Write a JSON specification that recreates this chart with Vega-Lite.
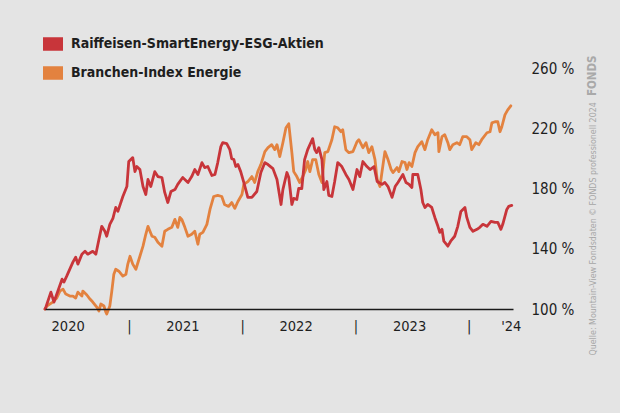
{
 "$schema": "https://vega.github.io/schema/vega-lite/v6.json",
 "width": 468,
 "height": 241,
 "autosize": {"type": "none"},
 "padding": {"left": 45, "top": 68, "right": 107, "bottom": 104},
 "background": "#e4e4e4",
 "config": {"view": {"stroke": null}, "font": "DejaVu Sans Condensed, Liberation Sans Narrow, Roboto, sans-serif"},
 "datasets": {
  "fonds": [
   {"date": "2020-04-05", "value": 100},
   {"date": "2020-04-08", "value": 101.3},
   {"date": "2020-04-24", "value": 111.2},
   {"date": "2020-05-04", "value": 104.6},
   {"date": "2020-05-30", "value": 119.8},
   {"date": "2020-06-05", "value": 117.9},
   {"date": "2020-06-14", "value": 121.8},
   {"date": "2020-07-04", "value": 131.1},
   {"date": "2020-07-13", "value": 134.4},
   {"date": "2020-07-20", "value": 129.8},
   {"date": "2020-08-02", "value": 136.4},
   {"date": "2020-08-12", "value": 138.3},
   {"date": "2020-08-21", "value": 136.4},
   {"date": "2020-09-06", "value": 138.3},
   {"date": "2020-09-16", "value": 136.4},
   {"date": "2020-09-26", "value": 146.3},
   {"date": "2020-10-05", "value": 154.9},
   {"date": "2020-10-15", "value": 151.6},
   {"date": "2020-10-21", "value": 148.3},
   {"date": "2020-10-31", "value": 156.2},
   {"date": "2020-11-10", "value": 160.2},
   {"date": "2020-11-19", "value": 167.4},
   {"date": "2020-11-26", "value": 164.8},
   {"date": "2020-12-12", "value": 174.7},
   {"date": "2020-12-25", "value": 181.3},
   {"date": "2020-12-31", "value": 197.9},
   {"date": "2021-01-13", "value": 200.5},
   {"date": "2021-01-20", "value": 191.2},
   {"date": "2021-01-26", "value": 194.6},
   {"date": "2021-02-05", "value": 192.6},
   {"date": "2021-02-15", "value": 181.3},
   {"date": "2021-02-24", "value": 176.0},
   {"date": "2021-03-03", "value": 186.0},
   {"date": "2021-03-12", "value": 181.3},
   {"date": "2021-03-25", "value": 191.2},
   {"date": "2021-04-04", "value": 187.9},
   {"date": "2021-04-17", "value": 187.3},
   {"date": "2021-04-26", "value": 177.4},
   {"date": "2021-05-06", "value": 170.7},
   {"date": "2021-05-16", "value": 178.0},
   {"date": "2021-05-29", "value": 179.3},
   {"date": "2021-06-07", "value": 182.7},
   {"date": "2021-06-23", "value": 187.3},
   {"date": "2021-07-10", "value": 184.0},
   {"date": "2021-07-22", "value": 187.9},
   {"date": "2021-08-01", "value": 192.6},
   {"date": "2021-08-11", "value": 189.3},
   {"date": "2021-08-24", "value": 197.2},
   {"date": "2021-09-02", "value": 193.9},
   {"date": "2021-09-12", "value": 194.6},
   {"date": "2021-09-25", "value": 188.6},
   {"date": "2021-10-05", "value": 189.3},
   {"date": "2021-10-14", "value": 197.2},
   {"date": "2021-10-24", "value": 207.8},
   {"date": "2021-10-30", "value": 210.4},
   {"date": "2021-11-12", "value": 209.8},
   {"date": "2021-11-22", "value": 205.8},
   {"date": "2021-11-28", "value": 199.8},
   {"date": "2021-12-05", "value": 199.2},
   {"date": "2021-12-11", "value": 194.6},
   {"date": "2021-12-18", "value": 195.9},
   {"date": "2021-12-27", "value": 191.2},
   {"date": "2022-01-06", "value": 184.0},
   {"date": "2022-01-19", "value": 174.1},
   {"date": "2022-02-01", "value": 174.1},
   {"date": "2022-02-17", "value": 178.0},
   {"date": "2022-03-02", "value": 190.6},
   {"date": "2022-03-15", "value": 197.2},
   {"date": "2022-03-25", "value": 195.9},
   {"date": "2022-04-10", "value": 193.2},
   {"date": "2022-04-23", "value": 186.0},
   {"date": "2022-05-06", "value": 169.4},
   {"date": "2022-05-12", "value": 179.3},
   {"date": "2022-05-25", "value": 190.6},
   {"date": "2022-05-31", "value": 187.3},
   {"date": "2022-06-10", "value": 169.4},
   {"date": "2022-06-16", "value": 173.4},
   {"date": "2022-06-26", "value": 172.7},
   {"date": "2022-07-02", "value": 180.0},
   {"date": "2022-07-12", "value": 180.0},
   {"date": "2022-07-21", "value": 199.2},
   {"date": "2022-07-31", "value": 205.8},
   {"date": "2022-08-16", "value": 213.1},
   {"date": "2022-08-23", "value": 205.8},
   {"date": "2022-08-29", "value": 203.8},
   {"date": "2022-09-05", "value": 207.1},
   {"date": "2022-09-15", "value": 199.2},
   {"date": "2022-09-21", "value": 179.3},
   {"date": "2022-10-01", "value": 184.6},
   {"date": "2022-10-07", "value": 175.4},
   {"date": "2022-10-17", "value": 174.7},
   {"date": "2022-10-26", "value": 184.6},
   {"date": "2022-11-05", "value": 197.2},
   {"date": "2022-11-18", "value": 194.6},
   {"date": "2022-12-01", "value": 189.3},
   {"date": "2022-12-11", "value": 186.0},
   {"date": "2022-12-24", "value": 179.3},
   {"date": "2023-01-06", "value": 192.6},
   {"date": "2023-01-15", "value": 187.9},
   {"date": "2023-01-25", "value": 197.9},
   {"date": "2023-02-07", "value": 194.6},
   {"date": "2023-02-17", "value": 192.6},
   {"date": "2023-03-02", "value": 194.6},
   {"date": "2023-03-12", "value": 184.6},
   {"date": "2023-03-28", "value": 182.7},
   {"date": "2023-04-06", "value": 184.0},
   {"date": "2023-04-16", "value": 181.3},
   {"date": "2023-04-29", "value": 174.1},
   {"date": "2023-05-09", "value": 181.3},
   {"date": "2023-05-18", "value": 184.0},
   {"date": "2023-06-03", "value": 189.3},
   {"date": "2023-06-13", "value": 184.0},
   {"date": "2023-06-23", "value": 182.7},
   {"date": "2023-07-02", "value": 180.7},
   {"date": "2023-07-05", "value": 189.3},
   {"date": "2023-07-21", "value": 189.3},
   {"date": "2023-07-31", "value": 179.3},
   {"date": "2023-08-06", "value": 170.7},
   {"date": "2023-08-13", "value": 167.4},
   {"date": "2023-08-22", "value": 169.4},
   {"date": "2023-09-04", "value": 167.4},
   {"date": "2023-09-14", "value": 160.8},
   {"date": "2023-09-24", "value": 154.9},
   {"date": "2023-09-30", "value": 150.9},
   {"date": "2023-10-07", "value": 152.9},
   {"date": "2023-10-13", "value": 145.0},
   {"date": "2023-10-26", "value": 141.7},
   {"date": "2023-11-04", "value": 145.0},
   {"date": "2023-11-17", "value": 148.3},
   {"date": "2023-11-27", "value": 154.9},
   {"date": "2023-12-07", "value": 164.8},
   {"date": "2023-12-20", "value": 167.4},
   {"date": "2023-12-26", "value": 160.8},
   {"date": "2024-01-05", "value": 154.2},
   {"date": "2024-01-15", "value": 151.6},
   {"date": "2024-01-28", "value": 152.9},
   {"date": "2024-02-06", "value": 154.2},
   {"date": "2024-02-16", "value": 156.2},
   {"date": "2024-02-29", "value": 154.9},
   {"date": "2024-03-13", "value": 158.2},
   {"date": "2024-03-26", "value": 157.5},
   {"date": "2024-04-04", "value": 157.5},
   {"date": "2024-04-14", "value": 152.9},
   {"date": "2024-04-20", "value": 156.2},
   {"date": "2024-05-03", "value": 166.1},
   {"date": "2024-05-09", "value": 168.1},
   {"date": "2024-05-19", "value": 168.8}
  ],
  "index": [
   {"date": "2020-04-05", "value": 100},
   {"date": "2020-04-11", "value": 102.0},
   {"date": "2020-04-30", "value": 104.6},
   {"date": "2020-05-13", "value": 107.3},
   {"date": "2020-05-23", "value": 111.9},
   {"date": "2020-06-02", "value": 113.2},
   {"date": "2020-06-11", "value": 109.9},
   {"date": "2020-06-24", "value": 108.6},
   {"date": "2020-07-04", "value": 108.6},
   {"date": "2020-07-13", "value": 107.3},
   {"date": "2020-07-20", "value": 111.2},
   {"date": "2020-08-02", "value": 108.6},
   {"date": "2020-08-05", "value": 111.9},
   {"date": "2020-08-18", "value": 109.3},
   {"date": "2020-08-28", "value": 106.6},
   {"date": "2020-09-06", "value": 104.6},
   {"date": "2020-09-19", "value": 101.3},
   {"date": "2020-09-26", "value": 98.7},
   {"date": "2020-10-02", "value": 103.3},
   {"date": "2020-10-12", "value": 102.0},
   {"date": "2020-10-18", "value": 98.0},
   {"date": "2020-10-21", "value": 96.7},
   {"date": "2020-10-31", "value": 102.0},
   {"date": "2020-11-06", "value": 111.2},
   {"date": "2020-11-13", "value": 123.1},
   {"date": "2020-11-19", "value": 126.4},
   {"date": "2020-11-29", "value": 125.1},
   {"date": "2020-12-12", "value": 121.8},
   {"date": "2020-12-22", "value": 123.1},
   {"date": "2020-12-28", "value": 129.8},
   {"date": "2021-01-04", "value": 135.0},
   {"date": "2021-01-13", "value": 129.8},
   {"date": "2021-01-23", "value": 126.4},
   {"date": "2021-02-05", "value": 135.0},
   {"date": "2021-02-15", "value": 141.7},
   {"date": "2021-02-24", "value": 149.6},
   {"date": "2021-03-03", "value": 154.9},
   {"date": "2021-03-16", "value": 148.3},
   {"date": "2021-03-25", "value": 147.6},
   {"date": "2021-04-04", "value": 144.3},
   {"date": "2021-04-17", "value": 141.7},
   {"date": "2021-04-26", "value": 151.6},
   {"date": "2021-05-06", "value": 152.9},
   {"date": "2021-05-19", "value": 154.2},
   {"date": "2021-05-29", "value": 159.5},
   {"date": "2021-06-07", "value": 154.2},
   {"date": "2021-06-14", "value": 160.8},
   {"date": "2021-06-20", "value": 159.5},
   {"date": "2021-06-30", "value": 154.2},
   {"date": "2021-07-10", "value": 148.3},
   {"date": "2021-07-22", "value": 149.6},
   {"date": "2021-08-01", "value": 151.6},
   {"date": "2021-08-11", "value": 143.0},
   {"date": "2021-08-17", "value": 149.6},
   {"date": "2021-08-27", "value": 150.9},
   {"date": "2021-09-09", "value": 156.2},
   {"date": "2021-09-19", "value": 166.1},
   {"date": "2021-10-01", "value": 174.7},
   {"date": "2021-10-14", "value": 175.4},
   {"date": "2021-10-27", "value": 174.7},
   {"date": "2021-11-05", "value": 169.4},
   {"date": "2021-11-18", "value": 168.1},
   {"date": "2021-11-28", "value": 170.7},
   {"date": "2021-12-08", "value": 166.8},
   {"date": "2021-12-18", "value": 171.4},
   {"date": "2021-12-31", "value": 176.0},
   {"date": "2022-01-06", "value": 182.7},
   {"date": "2022-01-19", "value": 184.6},
   {"date": "2022-02-01", "value": 187.9},
   {"date": "2022-02-10", "value": 184.0},
   {"date": "2022-02-20", "value": 191.2},
   {"date": "2022-03-02", "value": 195.9},
   {"date": "2022-03-15", "value": 204.5},
   {"date": "2022-03-25", "value": 207.1},
   {"date": "2022-04-06", "value": 209.1},
   {"date": "2022-04-16", "value": 205.8},
   {"date": "2022-04-23", "value": 209.1},
   {"date": "2022-05-02", "value": 201.2},
   {"date": "2022-05-12", "value": 210.4},
   {"date": "2022-05-22", "value": 220.3},
   {"date": "2022-05-31", "value": 223.0},
   {"date": "2022-06-10", "value": 203.8},
   {"date": "2022-06-16", "value": 191.2},
   {"date": "2022-06-26", "value": 187.9},
   {"date": "2022-07-05", "value": 184.0},
   {"date": "2022-07-15", "value": 187.9},
   {"date": "2022-07-25", "value": 192.6},
   {"date": "2022-07-31", "value": 197.9},
   {"date": "2022-08-07", "value": 191.2},
   {"date": "2022-08-16", "value": 199.2},
   {"date": "2022-08-26", "value": 199.2},
   {"date": "2022-09-05", "value": 189.3},
   {"date": "2022-09-15", "value": 184.0},
   {"date": "2022-09-24", "value": 203.8},
   {"date": "2022-10-04", "value": 204.5},
   {"date": "2022-10-17", "value": 212.4},
   {"date": "2022-10-26", "value": 221.0},
   {"date": "2022-11-05", "value": 220.3},
   {"date": "2022-11-15", "value": 217.7},
   {"date": "2022-11-21", "value": 219.0},
   {"date": "2022-12-01", "value": 205.8},
   {"date": "2022-12-11", "value": 203.8},
   {"date": "2022-12-24", "value": 204.5},
   {"date": "2023-01-06", "value": 211.1},
   {"date": "2023-01-12", "value": 212.4},
   {"date": "2023-01-25", "value": 207.1},
   {"date": "2023-02-04", "value": 210.4},
   {"date": "2023-02-13", "value": 203.8},
   {"date": "2023-02-23", "value": 207.8},
   {"date": "2023-03-05", "value": 199.2},
   {"date": "2023-03-12", "value": 186.0},
   {"date": "2023-03-21", "value": 181.3},
   {"date": "2023-03-31", "value": 195.9},
   {"date": "2023-04-06", "value": 204.5},
   {"date": "2023-04-16", "value": 199.2},
   {"date": "2023-04-26", "value": 192.6},
   {"date": "2023-05-02", "value": 190.6},
   {"date": "2023-05-15", "value": 193.9},
   {"date": "2023-05-21", "value": 191.2},
   {"date": "2023-05-31", "value": 197.9},
   {"date": "2023-06-10", "value": 197.2},
   {"date": "2023-06-16", "value": 192.6},
   {"date": "2023-06-23", "value": 197.2},
   {"date": "2023-07-02", "value": 194.6},
   {"date": "2023-07-12", "value": 203.8},
   {"date": "2023-07-21", "value": 207.8},
   {"date": "2023-08-03", "value": 211.1},
   {"date": "2023-08-13", "value": 205.8},
   {"date": "2023-08-22", "value": 212.4},
   {"date": "2023-09-04", "value": 219.0},
   {"date": "2023-09-14", "value": 215.7},
   {"date": "2023-09-24", "value": 217.0},
   {"date": "2023-09-27", "value": 204.5},
   {"date": "2023-10-07", "value": 214.4},
   {"date": "2023-10-16", "value": 215.7},
   {"date": "2023-10-26", "value": 210.4},
   {"date": "2023-11-01", "value": 205.8},
   {"date": "2023-11-11", "value": 209.1},
   {"date": "2023-11-24", "value": 210.4},
   {"date": "2023-12-03", "value": 209.1},
   {"date": "2023-12-13", "value": 214.4},
   {"date": "2023-12-26", "value": 214.4},
   {"date": "2024-01-05", "value": 212.4},
   {"date": "2024-01-11", "value": 205.8},
   {"date": "2024-01-24", "value": 210.4},
   {"date": "2024-02-03", "value": 209.1},
   {"date": "2024-02-12", "value": 212.4},
   {"date": "2024-02-29", "value": 217.0},
   {"date": "2024-03-10", "value": 217.7},
   {"date": "2024-03-16", "value": 223.6},
   {"date": "2024-03-26", "value": 224.3},
   {"date": "2024-04-04", "value": 224.3},
   {"date": "2024-04-11", "value": 217.7},
   {"date": "2024-04-17", "value": 221.0},
   {"date": "2024-04-27", "value": 228.9},
   {"date": "2024-05-06", "value": 232.2},
   {"date": "2024-05-16", "value": 234.9}
  ]
 },
 "layer": [
  {
   "data": {"name": "index"},
   "mark": {"type": "line", "strokeWidth": 2.8, "strokeJoin": "round", "strokeCap": "round", "clip": false},
   "encoding": {
    "x": {
     "field": "date", "type": "temporal",
     "scale": {"type": "utc", "domain": [{"year": 2020, "month": 4, "date": 5, "utc": true}, {"year": 2024, "month": 5, "date": 23, "utc": true}]},
     "axis": {
      "title": "FONDS",
      "titleAngle": 270, "titleX": 547, "titleY": -254, "titleAlign": "right", "titleBaseline": "middle",
      "titleFont": "DejaVu Sans Condensed, Liberation Sans Narrow, Roboto, sans-serif", "titleFontSize": 11.5, "titleFontWeight": "bold", "titleColor": "#a9a9a9",
      "values": [
       {"year": 2020, "month": 6, "date": 17, "utc": true},
       {"year": 2021, "month": 1, "date": 1, "utc": true},
       {"year": 2021, "month": 6, "date": 22, "utc": true},
       {"year": 2022, "month": 1, "date": 1, "utc": true},
       {"year": 2022, "month": 6, "date": 22, "utc": true},
       {"year": 2023, "month": 1, "date": 1, "utc": true},
       {"year": 2023, "month": 6, "date": 23, "utc": true},
       {"year": 2024, "month": 1, "date": 1, "utc": true},
       {"year": 2024, "month": 5, "date": 16, "utc": true}
      ],
      "labelExpr": "utcmonth(datum.value) == 0 && utcdate(datum.value) == 1 ? '|' : (utcyear(datum.value) == 2024 ? \"'24\" : '' + utcyear(datum.value))",
      "ticks": false, "grid": false,
      "domainColor": "#1a1a1a", "domainWidth": 1.6,
      "labelFont": "DejaVu Sans Condensed, Liberation Sans Narrow, Roboto, sans-serif", "labelFontSize": 14.5, "labelColor": "#1e1e1e",
      "labelPadding": 10, "labelOverlap": false, "labelFlush": false, "labelBound": false,
      "zindex": 1
     }
    },
    "y": {
     "field": "value", "type": "quantitative",
     "scale": {"domain": [100, 260], "nice": false, "zero": false},
     "axis": {
      "orient": "right",
      "title": "Quelle: Mountain-View Fondsdaten   © FONDS professionell 2024",
      "values": [100, 120, 140, 160, 180, 200, 220, 240, 260],
      "labelExpr": "datum.value + ' %'",
      "ticks": false, "domain": false, "grid": false,
      "labelPadding": 18, "labelAlign": "left",
      "labelFont": "DejaVu Sans Condensed, Liberation Sans Narrow, Roboto, sans-serif", "labelFontSize": 15, "labelColor": "#1e1e1e",
      "titleAngle": 270, "titleX": 79, "titleY": 287, "titleAlign": "left", "titleBaseline": "middle",
      "titleFont": "DejaVu Sans Condensed, Liberation Sans Narrow, Roboto, sans-serif", "titleFontSize": 8.8, "titleFontWeight": "normal", "titleColor": "#a6a6a6"
     }
    },
    "color": {
     "datum": "Branchen-Index Energie", "type": "nominal",
     "scale": {"domain": ["Raiffeisen-SmartEnergy-ESG-Aktien", "Branchen-Index Energie"], "range": ["#c8353a", "#e3823f"]},
     "legend": {
      "title": null, "orient": "none", "legendX": -2, "legendY": -34, "direction": "vertical",
      "symbolType": "M-1,-0.675H1V0.675H-1Z", "symbolSize": 400, "symbolStrokeWidth": 0,
      "labelFont": "DejaVu Sans Condensed, Liberation Sans Narrow, Roboto, sans-serif", "labelFontSize": 14, "labelFontWeight": "bold", "labelColor": "#1e1e1e",
      "labelOffset": 8, "labelLimit": 500, "rowPadding": 12, "padding": 0,
      "encode": {"symbols": {"update": {"fill": {"scale": "color", "field": "value"}, "opacity": {"value": 1}}}}
     }
    }
   }
  },
  {
   "data": {"name": "fonds"},
   "mark": {"type": "line", "strokeWidth": 2.8, "strokeJoin": "round", "strokeCap": "round", "clip": false},
   "encoding": {
    "x": {"field": "date", "type": "temporal"},
    "y": {"field": "value", "type": "quantitative"},
    "color": {"datum": "Raiffeisen-SmartEnergy-ESG-Aktien", "type": "nominal"}
   }
  }
 ]
}
